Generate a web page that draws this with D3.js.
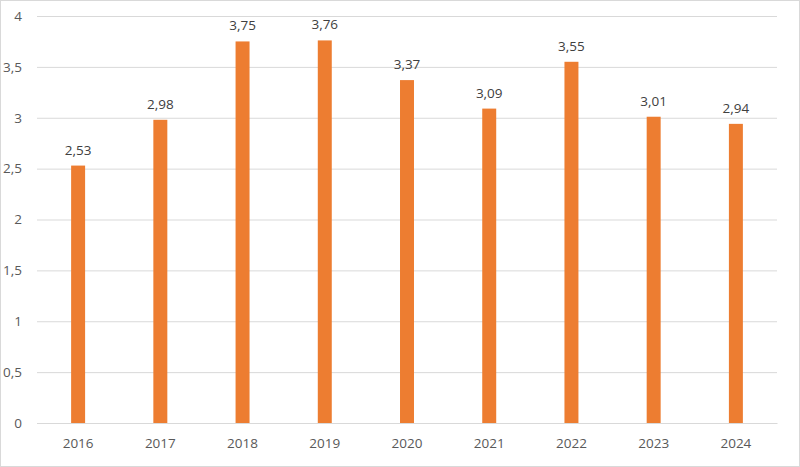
<!DOCTYPE html>
<html><head><meta charset="utf-8">
<script src="https://cdn.jsdelivr.net/npm/d3@7"></script>
<style>body{margin:0;background:#fff}svg{display:block}</style>
</head><body>
<script>
const categories = ["2016","2017","2018","2019","2020","2021","2022","2023","2024"];
const values = [2.53,2.98,3.75,3.76,3.37,3.09,3.55,3.01,2.94];
const yTicks = [0,0.5,1,1.5,2,2.5,3,3.5,4];

const W=800,H=467;
const m={left:37,right:23,top:16,bottom:44};
const svg=d3.select("body").append("svg").attr("width",W).attr("height",H);
svg.append("rect").attr("x",0.5).attr("y",0.5).attr("width",W-1).attr("height",H-1)
  .attr("fill","#fff").attr("stroke","#d9d9d9");
const x=d3.scaleBand().domain(categories).range([m.left,W-m.right]).paddingInner(0.83).paddingOuter(0.415);
const y=d3.scaleLinear().domain([0,4]).range([H-m.bottom,m.top]);
const fmt=d=>String(d).replace(".",",");
const font="'Open Sans', 'Liberation Sans', Arial, sans-serif";
const fs="13.5px";

const ya=svg.append("g").attr("transform",`translate(${m.left},0)`)
  .call(d3.axisLeft(y).tickValues(yTicks).tickSize(-(W-m.left-m.right)).tickPadding(15).tickFormat(fmt));
ya.select(".domain").remove();
ya.selectAll("line").attr("stroke","#d9d9d9");
ya.selectAll("text").attr("fill","#595959").style("font-family",font).style("font-size",fs);

const xa=svg.append("g").attr("transform",`translate(0,${H-m.bottom})`)
  .call(d3.axisBottom(x).tickSize(0).tickPadding(15));
xa.select(".domain").attr("stroke","#d9d9d9");
xa.selectAll("text").attr("fill","#595959").style("font-family",font).style("font-size",fs);

svg.append("g").selectAll("rect").data(values).join("rect")
  .attr("x",(d,i)=>x(categories[i])).attr("width",x.bandwidth())
  .attr("y",d=>y(d)).attr("height",d=>y(0)-y(d)).attr("fill","#ed7d31");

svg.append("g").selectAll("text").data(values).join("text")
  .attr("x",(d,i)=>x(categories[i])+x.bandwidth()/2).attr("y",d=>y(d)-11)
  .attr("text-anchor","middle").attr("fill","#404040")
  .style("font-family",font).style("font-size",fs).text(d=>fmt(d.toFixed(2)));
</script>
</body></html>
